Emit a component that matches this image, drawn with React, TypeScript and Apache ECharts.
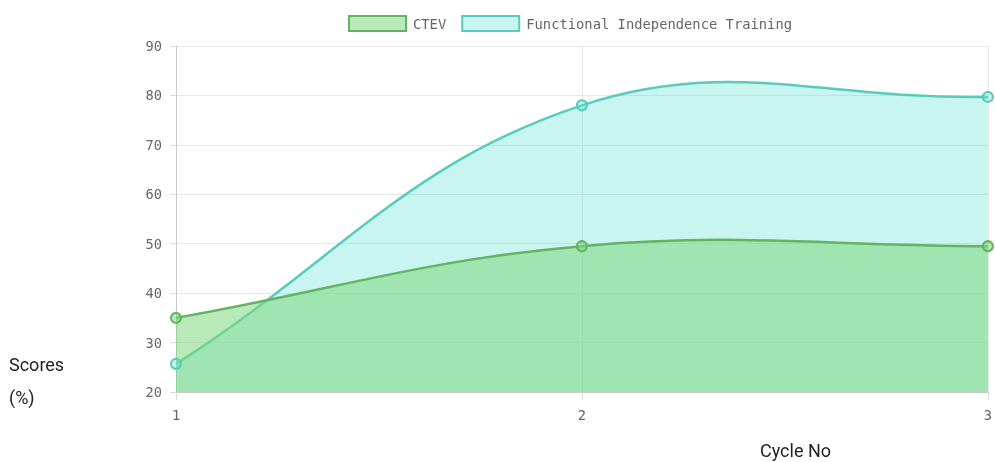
import React, { useEffect, useRef } from "react";
import * as echarts from "echarts";

const cycles = [1, 2, 3];
const ctev = [35, 49.5, 49.5];
const fit = [25.7, 78, 79.7];
const seriesNames = ["CTEV", "Functional Independence Training"];
const yTicks = { min: 20, max: 90, interval: 10 };
const yAxisTitle = ["Scores", "(%)"];
const xAxisTitle = "Cycle No";

const mono = "'DejaVu Sans Mono', monospace";
const TENSION = 0.4;

function splinePath(pts: number[][]) {
  // Chart.js-style cardinal spline (tension 0.4)
  const n = pts.length;
  const cps: { prev: number[]; next: number[] }[] = [];
  for (let i = 0; i < n; i++) {
    const p0 = pts[Math.max(0, i - 1)];
    const p1 = pts[i];
    const p2 = pts[Math.min(n - 1, i + 1)];
    const d01 = Math.hypot(p1[0] - p0[0], p1[1] - p0[1]);
    const d12 = Math.hypot(p2[0] - p1[0], p2[1] - p1[1]);
    const tot = d01 + d12 || 1;
    const fa = (TENSION * d01) / tot;
    const fb = (TENSION * d12) / tot;
    cps.push({
      prev: [p1[0] - fa * (p2[0] - p0[0]), p1[1] - fa * (p2[1] - p0[1])],
      next: [p1[0] + fb * (p2[0] - p0[0]), p1[1] + fb * (p2[1] - p0[1])],
    });
  }
  let d = `M${pts[0][0]},${pts[0][1]}`;
  for (let i = 1; i < n; i++) {
    const a = cps[i - 1].next;
    const b = cps[i].prev;
    d += ` C${a[0]},${a[1]} ${b[0]},${b[1]} ${pts[i][0]},${pts[i][1]}`;
  }
  return d;
}

function makeCurveSeries(name: string, values: number[], lineColor: string, fill: string, z: number) {
  return {
    name,
    type: "custom",
    z,
    silent: true,
    data: cycles.map((c, i) => [c, values[i]]),
    encode: { x: 0, y: 1 },
    renderItem: (params: any, api: any) => {
      if (params.dataIndex !== 0) return { type: "group", children: [] };
      const pts = cycles.map((c, i) => api.coord([c, values[i]]));
      const curve = splinePath(pts);
      const base0 = api.coord([cycles[0], yTicks.min]);
      const base1 = api.coord([cycles[cycles.length - 1], yTicks.min]);
      const area = `${curve} L${base1[0]},${base1[1]} L${base0[0]},${base0[1]} Z`;
      return {
        type: "group",
        children: [
          { type: "path", shape: { pathData: area }, style: { fill, stroke: "none" } },
          {
            type: "path",
            shape: { pathData: curve },
            style: { fill: "none", stroke: lineColor, lineWidth: 2.5 },
          },
        ],
      };
    },
  };
}

export default function App() {
  const ref = useRef<HTMLDivElement>(null);
  useEffect(() => {
    if (!ref.current) return;
    const chart = echarts.init(ref.current, null, { renderer: "svg" });
    const green = "rgb(98,180,98)";
    const teal = "rgb(88,204,188)";
    const greenFill = "rgba(127,215,128,0.55)";
    const tealFill = "rgba(90,225,210,0.33)";
    chart.setOption({
      animation: false,
      legend: {
        top: 10,
        left: 343,
        itemWidth: 57,
        itemHeight: 15,
        itemGap: 15,
        icon: "rect",
        data: seriesNames,
        textStyle: { fontFamily: mono, fontSize: 13.8, color: "#666", padding: [0, 0, 0, 2] },
      },
      grid: { left: 176, right: 3, top: 46, bottom: 70 },
      xAxis: {
        type: "value",
        min: cycles[0],
        max: cycles[cycles.length - 1],
        interval: 1,
        axisLine: { show: true, lineStyle: { color: "#c8c8c8" } },
        axisTick: { show: true, length: 8, lineStyle: { color: "#dcdcdc" } },
        axisLabel: { margin: 16, fontFamily: mono, fontSize: 13.7, color: "#666" },
        splitLine: { show: true, lineStyle: { color: "#e6e6e6" } },
      },
      yAxis: {
        type: "value",
        min: yTicks.min,
        max: yTicks.max,
        interval: yTicks.interval,
        axisLine: { show: true, lineStyle: { color: "#c8c8c8" } },
        axisTick: { show: true, length: 6, lineStyle: { color: "#dcdcdc" } },
        axisLabel: { margin: 14, fontFamily: mono, fontSize: 13.7, color: "#666" },
        splitLine: { show: true, lineStyle: { color: "#e6e6e6" } },
      },
      series: [
        {
          name: seriesNames[0],
          type: "line",
          z: 5,
          data: cycles.map((c, i) => [c, ctev[i]]),
          symbol: "circle",
          symbolSize: 10,
          lineStyle: { width: 0, opacity: 0 },
          itemStyle: { color: greenFill, borderColor: green, borderWidth: 2 },
        },
        {
          name: seriesNames[1],
          type: "line",
          z: 5,
          data: cycles.map((c, i) => [c, fit[i]]),
          symbol: "circle",
          symbolSize: 10,
          lineStyle: { width: 0, opacity: 0 },
          itemStyle: { color: tealFill, borderColor: teal, borderWidth: 2 },
        },
        makeCurveSeries(seriesNames[1], fit, teal, tealFill, 2),
        makeCurveSeries(seriesNames[0], ctev, green, greenFill, 3),
      ],
      graphic: [
        {
          type: "text",
          left: 9,
          top: 355,
          style: { text: yAxisTitle[0], font: "18px Roboto", fill: "#222" },
        },
        {
          type: "text",
          left: 9,
          top: 388,
          style: { text: yAxisTitle[1], font: "18px Roboto", fill: "#222" },
        },
        {
          type: "text",
          left: 760,
          top: 441,
          style: { text: xAxisTitle, font: "18px Roboto", fill: "#222" },
        },
      ],
    });
    return () => chart.dispose();
  }, []);
  return <div ref={ref} style={{ width: 995, height: 462, position: "fixed", left: 0, top: 0 }} />;
}
